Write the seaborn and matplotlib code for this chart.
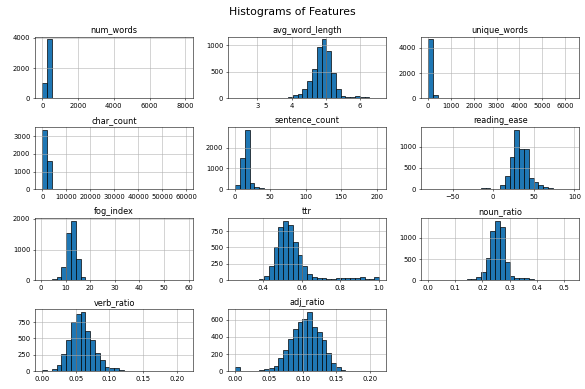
import numpy as np
import pandas as pd
import matplotlib
matplotlib.use("Agg")
import matplotlib.pyplot as plt
import seaborn as sns

# Feature names, in grid order
features = ["num_words", "avg_word_length", "unique_words",
            "char_count", "sentence_count", "reading_ease",
            "fog_index", "ttr", "noun_ratio",
            "verb_ratio", "adj_ratio"]

# Value range (min, max) of each feature; each histogram uses 30 equal bins
num_words_range = (5, 8040)
avg_word_length_range = (2.35, 6.55)
unique_words_range = (5, 6300)
char_count_range = (30, 60030)
sentence_count_range = (1, 203)
reading_ease_range = (-80, 97)
fog_index_range = (0.5, 59)
ttr_range = (0.255, 1.0)
noun_ratio_range = (0.0, 0.53)
verb_ratio_range = (0.0, 0.214)
adj_ratio_range = (0.0, 0.2135)

# Documents per bin
num_words_counts = [1000, 3880, 55, 15, 10, 8, 6, 5, 4, 3, 3, 2, 3, 2, 0,
                    0, 0, 0, 0, 0, 0, 0, 0, 0, 0, 0, 0, 0, 0, 1]
avg_word_length_counts = [1, 0, 0, 1, 2, 3, 5, 3, 2, 4, 15, 20, 60, 90, 180,
                          330, 560, 960, 1110, 900, 480, 180, 40, 25, 30, 40, 35, 20, 8, 3]
unique_words_counts = [4650, 250, 25, 10, 8, 6, 5, 5, 4, 3, 2, 1, 0, 0, 0,
                       0, 0, 0, 0, 0, 0, 0, 0, 0, 0, 0, 0, 0, 0, 1]
char_count_counts = [3330, 1620, 40, 8, 4, 2, 1, 0, 0, 0, 0, 0, 0, 0, 0,
                     0, 0, 0, 0, 0, 0, 0, 0, 0, 0, 0, 0, 0, 0, 1]
sentence_count_counts = [230, 1480, 2830, 300, 90, 40, 25, 15, 10, 3, 2, 1, 0, 0, 0,
                         0, 0, 0, 0, 0, 0, 0, 0, 0, 0, 0, 0, 0, 0, 1]
reading_ease_counts = [1, 0, 0, 0, 0, 0, 3, 5, 5, 8, 8, 20, 20, 8, 8,
                       100, 300, 750, 1380, 940, 940, 270, 180, 90, 60, 30, 5, 2, 1, 1]
fog_index_counts = [5, 20, 40, 120, 440, 1550, 1920, 700, 100, 20, 10, 8, 6, 5, 5,
                    4, 4, 3, 3, 2, 2, 0, 0, 0, 0, 0, 0, 0, 0, 1]
ttr_counts = [2, 3, 5, 10, 10, 15, 70, 210, 510, 810, 900, 840, 590, 390, 210,
              100, 55, 40, 30, 15, 25, 35, 40, 30, 30, 30, 50, 20, 25, 50]
noun_ratio_counts = [10, 0, 0, 0, 2, 5, 10, 10, 20, 40, 80, 200, 530, 1150, 1390,
                     1260, 430, 110, 50, 60, 60, 40, 15, 5, 2, 1, 0, 0, 0, 1]
verb_ratio_counts = [15, 5, 30, 100, 260, 470, 750, 870, 900, 620, 470, 280, 170, 70, 50,
                     40, 10, 3, 8, 2, 1, 0, 0, 0, 0, 0, 0, 0, 0, 1]
adj_ratio_counts = [50, 3, 2, 2, 3, 15, 25, 40, 60, 150, 250, 380, 490, 570, 610,
                    690, 520, 460, 370, 210, 100, 45, 15, 5, 2, 1, 0, 0, 0, 1]

ranges = [num_words_range, avg_word_length_range, unique_words_range,
          char_count_range, sentence_count_range, reading_ease_range,
          fog_index_range, ttr_range, noun_ratio_range,
          verb_ratio_range, adj_ratio_range]
counts = [num_words_counts, avg_word_length_counts, unique_words_counts,
          char_count_counts, sentence_count_counts, reading_ease_counts,
          fog_index_counts, ttr_counts, noun_ratio_counts,
          verb_ratio_counts, adj_ratio_counts]

N_BINS = 30

fig, axes = plt.subplots(4, 3, figsize=(12, 7.98), dpi=48.75)
fig.subplots_adjust(left=0.06, right=0.99, top=0.906, bottom=0.046,
                    wspace=0.22, hspace=0.47)

for ax, name, (lo, hi), cnt in zip(axes.flat, features, ranges, counts):
    edges = np.linspace(lo, hi, N_BINS + 1)
    centers = (edges[:-1] + edges[1:]) / 2
    df = pd.DataFrame({"value": centers, "count": cnt})
    sns.histplot(data=df, x="value", weights="count", bins=N_BINS,
                 binrange=(lo, hi), ax=ax,
                 color="#1f77b4", alpha=1.0, edgecolor="black", linewidth=1.0)
    ax.set_title(name, fontsize=12)
    ax.set_xlabel("")
    ax.set_ylabel("")
    ax.grid(True, color="#b0b0b0", linewidth=0.8)
    ax.tick_params(labelsize=10)

axes.flat[-1].set_visible(False)

fig.suptitle("Histograms of Features", fontsize=16, y=0.982)
fig.savefig("out.png", dpi=48.75)
